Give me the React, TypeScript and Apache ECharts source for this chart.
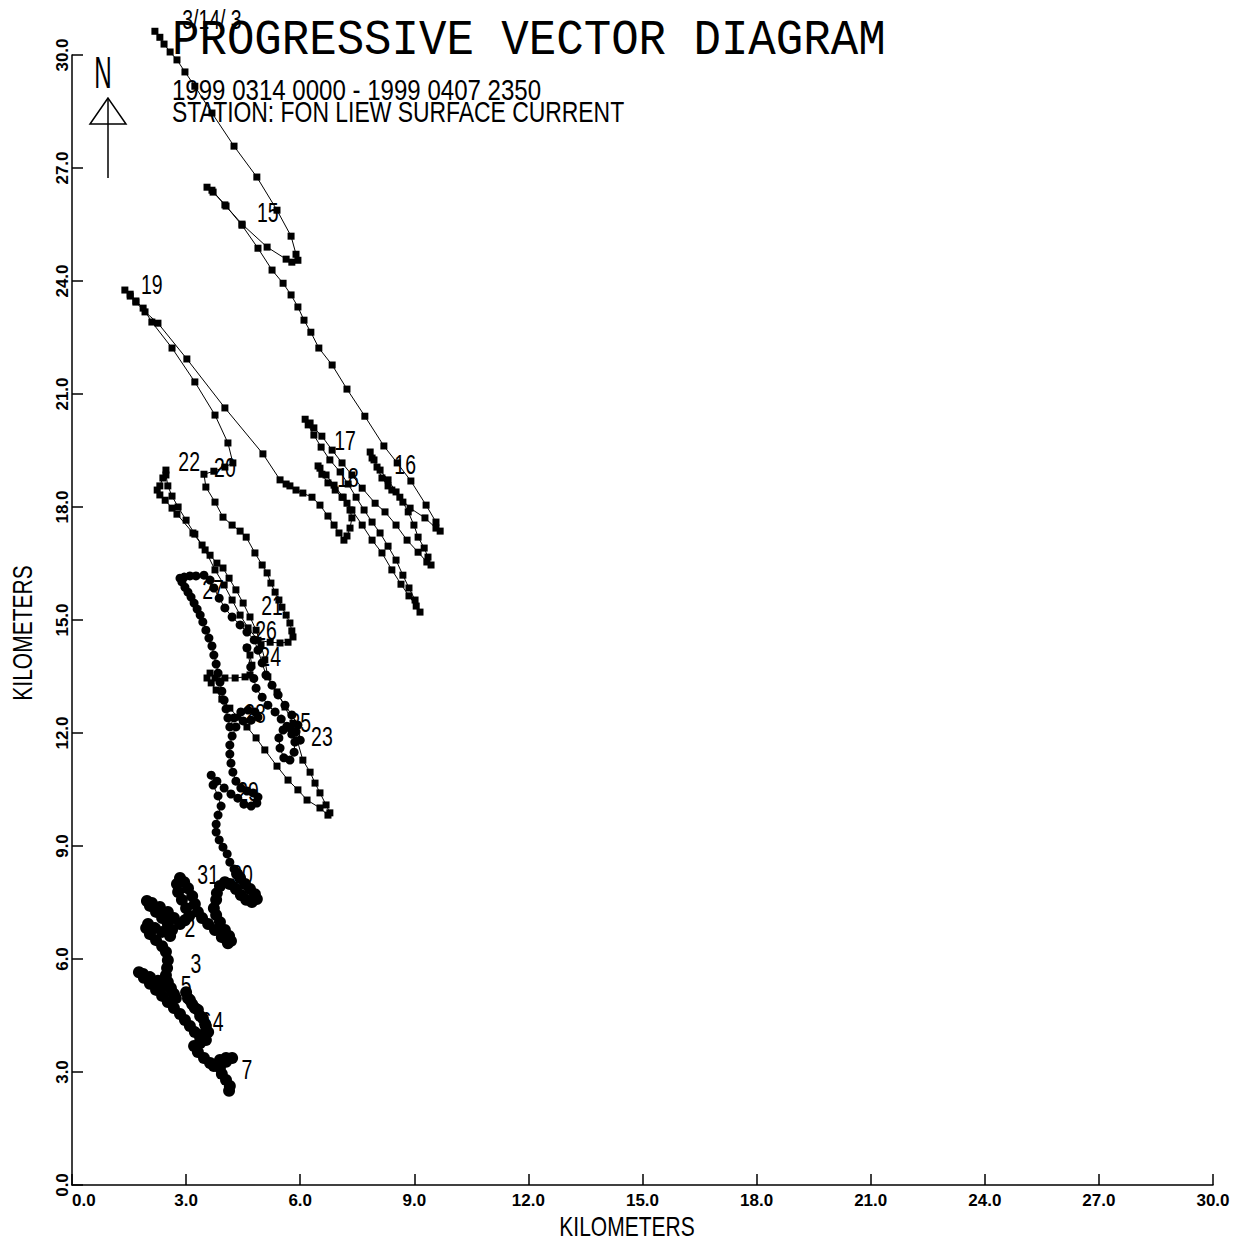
import React, { useEffect, useRef } from 'react';
import * as echarts from 'echarts';

// Progressive vector path (km east, km north), grouped by day
const day14 = [[2.18,30.63],[2.31,30.47],[2.42,30.29],[2.58,30.08],[2.76,29.87],[2.97,29.55],[3.23,29.17],[3.68,28.46],[4.26,27.58],[4.86,26.76]];
const day15 = [[5.39,25.88],[5.76,25.19],[5.89,24.71],[5.94,24.55],[5.78,24.50],[5.63,24.58],[5.13,24.90],[4.47,25.51],[4.02,26.02],[3.71,26.36],[3.55,26.49],[3.68,26.41],[4.05,25.99],[4.47,25.48],[4.89,24.87],[5.26,24.29],[5.55,23.94],[5.76,23.63],[5.94,23.31],[6.10,22.96],[6.28,22.64],[6.49,22.22],[6.84,21.77],[7.23,21.13],[7.70,20.41],[8.20,19.62],[8.55,19.17],[8.91,18.69],[9.31,18.05],[9.57,17.60],[9.68,17.36],[9.57,17.44]];
const day16 = [[9.28,17.71],[8.89,17.97],[8.62,18.26],[8.41,18.45],[8.31,18.56],[8.15,18.77],[8.02,19.06],[7.89,19.30],[7.84,19.46],[7.94,19.25],[8.10,18.98],[8.31,18.72],[8.52,18.40],[8.70,18.13],[8.84,17.87],[8.99,17.52],[9.10,17.20],[9.26,16.91],[9.36,16.67],[9.44,16.46],[9.33,16.54],[9.10,16.80],[8.81,17.12],[8.52,17.52],[8.23,17.87],[7.97,18.10],[7.63,18.50],[7.36,18.85],[7.10,19.17],[6.84,19.51],[6.57,19.88],[6.36,20.10],[6.26,20.23],[6.13,20.33]];
const day17 = [[6.21,20.18],[6.36,19.91],[6.55,19.59],[6.78,19.25],[7.05,18.93],[7.26,18.61],[7.47,18.26],[7.68,17.92],[7.89,17.60],[8.10,17.31],[8.31,16.96],[8.52,16.59],[8.70,16.19],[8.86,15.85],[9.02,15.53],[9.15,15.21],[9.05,15.37],[8.86,15.64],[8.65,15.95],[8.41,16.33],[8.15,16.78],[7.89,17.12],[7.63,17.52],[7.36,17.92],[7.13,18.26],[6.89,18.58],[6.68,18.85],[6.52,19.03],[6.47,19.09]];
const day18 = [[6.57,18.87],[6.73,18.64],[6.92,18.45],[7.10,18.26],[7.23,18.10],[7.31,17.92],[7.36,17.71],[7.31,17.44],[7.23,17.23],[7.15,17.12],[7.02,17.31],[6.89,17.52],[6.73,17.76],[6.52,18.05],[6.31,18.26],[6.07,18.37],[5.89,18.45],[5.73,18.56],[5.63,18.61]];
const day19 = [[5.47,18.72],[5.02,19.41],[4.02,20.63],[3.02,21.93],[2.26,22.88],[1.92,23.18],[1.68,23.44],[1.53,23.60],[1.39,23.76],[1.53,23.65],[1.68,23.47],[1.87,23.28],[2.10,22.91],[2.63,22.22],[3.23,21.32],[3.76,20.44],[4.10,19.70],[4.23,19.17]];
const day20 = [[4.02,19.06],[3.73,18.95],[3.47,18.87],[3.52,18.53],[3.76,18.13],[3.97,17.73],[4.21,17.52],[4.42,17.36],[4.58,17.20],[4.81,16.78],[5.00,16.46],[5.13,16.25],[5.23,15.98],[5.34,15.74],[5.44,15.53],[5.52,15.34],[5.63,15.13],[5.73,14.92],[5.78,14.71],[5.81,14.55]];
const day21 = [[5.68,14.41],[5.47,14.39],[5.21,14.41],[4.89,14.46],[4.63,14.79],[4.42,15.13],[4.21,15.53],[4.00,15.93],[3.76,16.33],[3.50,16.86],[3.23,17.28],[3.00,17.65],[2.79,18.00],[2.63,18.29],[2.52,18.56],[2.47,18.85],[2.47,18.98],[2.39,18.77],[2.31,18.56],[2.24,18.45],[2.31,18.32]];
const day22 = [[2.45,18.18],[2.63,17.97],[2.76,17.81],[3.18,17.31],[3.42,16.99],[3.63,16.72],[3.81,16.51],[3.97,16.38],[4.13,16.11],[4.31,15.80],[4.50,15.45],[4.68,15.08],[4.84,14.73],[4.97,14.34],[5.07,13.94],[5.15,13.49],[5.39,13.09],[5.60,12.69],[5.81,12.26],[5.92,11.81],[6.07,11.28],[6.26,10.96],[6.39,10.67],[6.52,10.41],[6.68,10.09],[6.78,9.88]];
const day23 = [[6.73,9.82],[6.52,10.01],[6.18,10.22],[5.94,10.49],[5.68,10.75],[5.39,11.12],[5.07,11.55],[4.84,11.87],[4.60,12.16],[4.36,12.42],[4.15,12.66],[3.94,12.90],[3.79,13.14],[3.66,13.33],[3.55,13.46],[3.63,13.59],[3.76,13.46],[4.02,13.46],[4.29,13.46],[4.55,13.49],[4.68,13.54],[4.73,13.80],[4.68,14.07],[4.60,14.26]];
const day24 = [[4.60,14.26],[4.70,13.75],[4.78,13.45],[4.84,13.19],[5.00,12.95],[5.15,12.74],[5.34,12.56],[5.50,12.37],[5.65,12.18],[5.78,11.97],[5.86,11.76],[5.84,11.49],[5.73,11.28],[5.57,11.34],[5.47,11.60],[5.44,11.87],[5.55,12.08],[5.73,12.13],[5.89,12.03],[6.00,11.81],[5.94,12.21],[5.78,12.48],[5.60,12.74],[5.42,13.01],[5.26,13.27],[5.10,13.54],[5.00,13.86],[4.89,14.20],[4.79,14.47],[4.60,14.68],[4.42,14.87],[4.21,15.08],[4.02,15.32],[3.87,15.58],[3.73,15.85],[3.63,16.06],[3.47,16.19],[3.26,16.17],[3.10,16.17],[2.95,16.14],[2.84,16.11]];
const day27 = [[2.89,16.01],[2.97,15.87],[3.05,15.74],[3.13,15.61],[3.21,15.45],[3.29,15.29],[3.37,15.13],[3.44,14.95],[3.52,14.73],[3.60,14.52],[3.68,14.31],[3.73,14.07],[3.79,13.83],[3.84,13.59],[3.89,13.35],[3.94,13.11],[4.00,12.87],[4.05,12.64],[4.10,12.40],[4.15,12.16]];
const day28 = [[4.26,12.40],[4.44,12.56],[4.63,12.61],[4.81,12.56],[4.89,12.42],[4.71,12.34],[4.50,12.32],[4.31,12.16],[4.21,11.92],[4.15,11.68],[4.15,11.44],[4.18,11.20],[4.23,10.96],[4.31,10.72],[4.44,10.54],[4.60,10.46],[4.76,10.41],[4.89,10.30],[4.86,10.14],[4.71,10.06],[4.52,10.11],[4.36,10.27],[4.18,10.38],[4.00,10.54],[3.81,10.72],[3.66,10.88],[3.71,10.62],[3.84,10.33],[3.92,10.06],[3.84,9.82],[3.79,9.58],[3.79,9.37],[3.87,9.16],[3.97,8.97],[4.08,8.79],[4.15,8.57],[4.26,8.39],[4.34,8.26]];
const day30 = [[4.34,8.26],[4.42,8.15],[4.55,7.99],[4.68,7.86],[4.81,7.72],[4.86,7.59],[4.73,7.51],[4.58,7.57],[4.44,7.70],[4.31,7.86],[4.15,7.99],[4.02,8.04],[3.89,7.94],[3.81,7.75],[3.79,7.57],[3.73,7.35],[3.79,7.17],[3.89,6.98],[4.02,6.77],[4.13,6.61],[4.18,6.48],[4.10,6.42],[3.94,6.58],[3.76,6.77],[3.58,6.93],[3.42,7.09],[3.31,7.25],[3.23,7.46],[3.16,7.67],[3.05,7.88],[2.95,8.04],[2.84,8.15],[2.76,7.99],[2.79,7.78],[2.89,7.57],[3.00,7.35],[3.08,7.14]];
const day01 = [[2.97,7.03],[2.84,6.93],[2.68,7.09],[2.52,7.25],[2.31,7.38],[2.10,7.49],[1.97,7.54],[2.05,7.41],[2.21,7.25],[2.37,7.09],[2.52,6.93],[2.63,6.77],[2.58,6.61],[2.37,6.72],[2.18,6.82],[2.00,6.93],[1.95,6.82],[2.05,6.66],[2.21,6.50],[2.37,6.34],[2.47,6.19],[2.52,5.97],[2.50,5.76],[2.47,5.57],[2.52,5.39],[2.60,5.23],[2.68,5.07]];
const day03 = [[2.73,4.96],[2.63,5.12],[2.45,5.28],[2.26,5.42],[2.05,5.52],[1.87,5.60],[1.76,5.65],[1.89,5.50],[2.05,5.34],[2.21,5.18],[2.37,5.02],[2.52,4.86],[2.68,4.70],[2.84,4.54],[2.97,4.38],[3.10,4.22],[3.23,4.06],[3.37,3.90],[3.47,4.01],[3.52,4.22],[3.44,4.43],[3.31,4.65],[3.16,4.80],[3.05,4.96],[3.00,5.12]];
const day04 = [[3.10,4.91],[3.23,4.70],[3.37,4.49],[3.50,4.27],[3.58,4.06],[3.52,3.85],[3.37,3.77],[3.21,3.69],[3.31,3.53],[3.47,3.37],[3.63,3.24],[3.73,3.16],[3.89,3.32],[4.05,3.37],[4.21,3.37],[4.05,3.27],[3.89,3.11],[3.94,2.95],[4.05,2.79],[4.15,2.63],[4.13,2.50]];

// Day labels along the track
const dayLabelText = ['3/14/ 3','15','16','17','18','19','20','21','22','23','24','25','26','27','28','29','30','31','2','3','5','6','4','7'];
const dayLabelX = [3.68,5.15,8.76,7.18,7.26,2.10,4.02,5.26,3.08,6.57,5.21,6.00,5.10,3.71,4.81,4.63,4.47,3.58,3.10,3.26,3.00,3.52,3.84,4.60];
const dayLabelY = [30.93,25.80,19.11,19.75,18.77,23.89,19.03,15.37,19.19,11.89,14.02,12.26,14.71,15.80,12.50,10.43,8.23,8.23,6.82,5.87,5.28,4.33,4.33,3.05];

const axisMin = 0;
const axisMax = 30;
const axisStep = 3;

const titleText = 'PROGRESSIVE VECTOR DIAGRAM';
const periodText = '1999 0314 0000 - 1999 0407 2350';
const stationText = 'STATION: FON LIEW SURFACE CURRENT';
const axisName = 'KILOMETERS';

export default function App() {
  const ref = useRef<HTMLDivElement>(null);
  useEffect(() => {
    document.body.style.margin = '0';
    const chart = echarts.init(ref.current!, null, { renderer: 'svg' });
    const upperPath = [
      ...day14, ...day15, ...day16, ...day17, ...day18, ...day19, ...day20, ...day21,
      ...day22, ...day23,
    ];
    const middlePath = [...day24, ...day27, ...day28];
    const lowerPath = [...day30, ...day01, ...day03, ...day04];
    const labelData = dayLabelX.map((x, i) => [x, dayLabelY[i]]);
    const axisCommon = {
      type: 'value',
      min: axisMin,
      max: axisMax,
      interval: axisStep,
      axisLine: { show: true, onZero: false, lineStyle: { color: '#000', width: 1.5 } },
      axisTick: { show: true, inside: true, length: 11, lineStyle: { color: '#000', width: 1.5 } },
      splitLine: { show: false },
    };
    const lineCommon = {
      type: 'line',
      showSymbol: true,
      showAllSymbol: true,
      clip: false,
      silent: true,
      lineStyle: { color: '#000', width: 1 },
      itemStyle: { color: '#000' },
    };
    chart.setOption({
      animation: false,
      backgroundColor: '#fff',
      grid: { left: 72, right: 33, top: 55, bottom: 57, containLabel: false, outerBoundsMode: 'none' },
      xAxis: {
        ...axisCommon,
        axisLabel: {
          formatter: (v: number) => v.toFixed(1),
          fontSize: 17, fontWeight: 'bold', color: '#000', fontFamily: 'Liberation Sans',
          margin: 7, alignMinLabel: 'left',
        },
      },
      yAxis: {
        ...axisCommon,
        axisLabel: {
          formatter: (v: number) => v.toFixed(1),
          fontSize: 17, fontWeight: 'bold', color: '#000', fontFamily: 'Liberation Sans',
          margin: 1, rotate: 90,
        },
      },
      graphic: [
        { type: 'text', x: 172, y: 40, scaleX: 0.915, style: { text: titleText, fontSize: 50, fontFamily: 'Liberation Mono', fill: '#000', align: 'left', verticalAlign: 'middle' } },
        { type: 'text', x: 172, y: 90, scaleX: 0.83, style: { text: periodText, fontSize: 29, fontFamily: 'Liberation Sans', fill: '#000', align: 'left', verticalAlign: 'middle' } },
        { type: 'text', x: 172, y: 112, scaleX: 0.79, style: { text: stationText, fontSize: 29, fontFamily: 'Liberation Sans', fill: '#000', align: 'left', verticalAlign: 'middle' } },
        { type: 'text', x: 103, y: 73, scaleX: 0.55, style: { text: 'N', fontSize: 44, fontFamily: 'Liberation Sans', fill: '#000', align: 'center', verticalAlign: 'middle' } },
        { type: 'polygon', shape: { points: [[108, 98], [90, 124], [126, 124]] }, style: { fill: 'none', stroke: '#000', lineWidth: 1.5 } },
        { type: 'line', shape: { x1: 108, y1: 98, x2: 108, y2: 178 }, style: { stroke: '#000', lineWidth: 1.5 } },
        { type: 'text', x: 627, y: 1226, scaleX: 0.75, style: { text: axisName, fontSize: 28, fontFamily: 'Liberation Sans', fill: '#000', align: 'center', verticalAlign: 'middle' } },
        { type: 'text', x: 22, y: 633, rotation: Math.PI / 2, scaleX: 0.75, style: { text: axisName, fontSize: 28, fontFamily: 'Liberation Sans', fill: '#000', align: 'center', verticalAlign: 'middle' } },
      ],
      series: [
        { ...lineCommon, data: upperPath, symbol: 'rect', symbolSize: 7 },
        { ...lineCommon, data: middlePath, symbol: 'circle', symbolSize: 9 },
        { ...lineCommon, data: lowerPath, symbol: 'circle', symbolSize: 12 },
        {
          type: 'custom',
          data: labelData,
          clip: false,
          silent: true,
          z: 5,
          renderItem: (params: any, api: any) => {
            const p = api.coord([api.value(0), api.value(1)]);
            return {
              type: 'text',
              x: p[0],
              y: p[1],
              scaleX: 0.72,
              style: {
                text: dayLabelText[params.dataIndex],
                fontSize: 27,
                fontFamily: 'Liberation Sans',
                fill: '#000',
                align: 'center',
                verticalAlign: 'middle',
              },
            };
          },
        },
      ],
    });
    return () => chart.dispose();
  }, []);
  return <div ref={ref} style={{ width: 1246, height: 1242, background: '#fff' }} />;
}
